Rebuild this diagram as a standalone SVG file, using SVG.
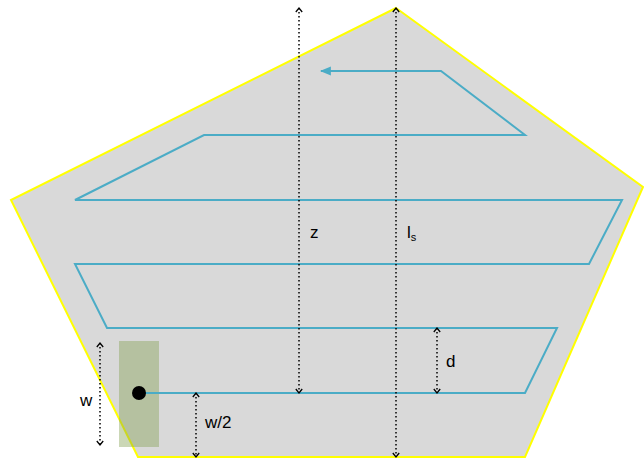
<svg xmlns="http://www.w3.org/2000/svg" width="644" height="462" viewBox="0 0 644 462">
<style>
.lbl{font-family:"Liberation Sans",Arial,sans-serif;font-size:17px;fill:#000}
.dim{stroke:#000;stroke-width:1.5;stroke-dasharray:1.5 2.5;fill:none;marker-start:url(#chev);marker-end:url(#chev)}
.spiral{fill:none;stroke:#4BACC6;stroke-width:2;stroke-linejoin:miter}
</style>
<defs>
<marker id="chev" viewBox="0 0 10 10" refX="8" refY="5" markerWidth="8" markerHeight="8" markerUnits="userSpaceOnUse" orient="auto-start-reverse">
<path d="M3,1 L8,5 L3,9" fill="none" stroke="#000" stroke-width="1.6"/>
</marker>
<marker id="tri" viewBox="0 0 10 10" refX="9" refY="5" markerWidth="11" markerHeight="11" markerUnits="userSpaceOnUse" orient="auto">
<path d="M0,1 L10,5 L0,9 Z" fill="#4BACC6"/>
</marker>
</defs>
<g id="field">
<polygon points="396,8 643,187 525,457 138,457 11,200" fill="#D9D9D9" stroke="#FFFF00" stroke-width="2"/>
</g>
<g id="head">
<rect x="119" y="341" width="40" height="106" fill="#83A051" fill-opacity="0.42"/>
</g>
<g id="connectors">
<path class="spiral" d="M139,393 L525,393 L557,328 L107,328 L75,264 L589,264 L622,200 L75,200 L204,135 L525,135 L441,71 L321,71" marker-end="url(#tri)"/>
<line class="dim" x1="299" y1="8" x2="299" y2="393"/>
<line class="dim" x1="396" y1="8" x2="396" y2="457"/>
<line class="dim" x1="437" y1="328" x2="437" y2="393"/>
<line class="dim" x1="100" y1="343" x2="100" y2="445"/>
<line class="dim" x1="196" y1="393" x2="196" y2="457"/>
</g>
<g id="nozzle">
<circle cx="139" cy="393" r="7" fill="#000"/>
</g>
<g id="labels">
<text class="lbl" x="310" y="238">z</text>
<text class="lbl" x="407" y="238">l<tspan font-size="11" dy="3">s</tspan></text>
<text class="lbl" x="446" y="367">d</text>
<text class="lbl" x="80" y="406">w</text>
<text class="lbl" x="205" y="428">w/2</text>
</g>
</svg>
